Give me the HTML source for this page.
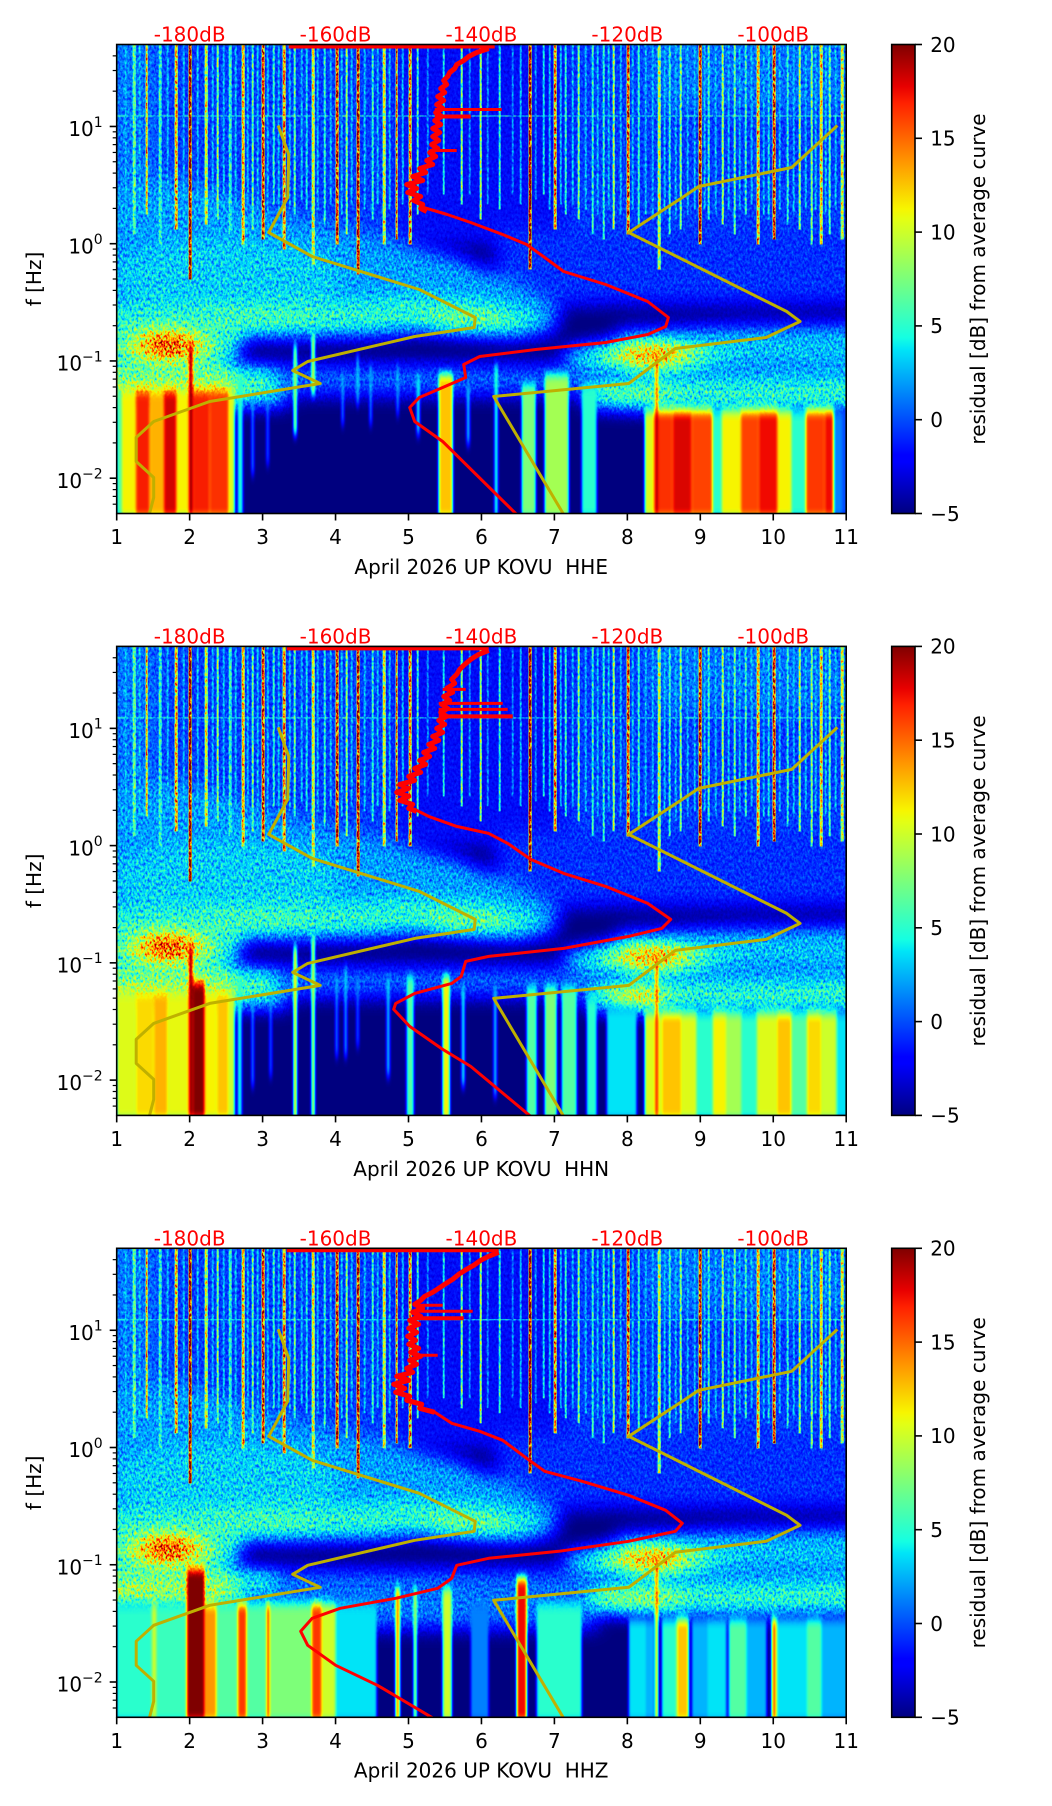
<!DOCTYPE html>
<html><head><meta charset="utf-8"><style>html,body{margin:0;padding:0;background:#fff}svg{display:block}</style></head><body>
<svg xmlns="http://www.w3.org/2000/svg" xmlns:xlink="http://www.w3.org/1999/xlink" width="1052" height="1806" viewBox="0 0 1052 1806" font-family="DejaVu Sans, Liberation Sans, sans-serif">
<defs>
<filter id="jet" filterUnits="userSpaceOnUse" x="0" y="0" width="730" height="470" color-interpolation-filters="sRGB">
<feComponentTransfer in="SourceGraphic">
<feFuncR type="table" tableValues="0 0 0 0 0 0 0 0 .161 .323 .484 .645 .806 .968 1 1 1 1 .955 .727 .5"/>
<feFuncG type="table" tableValues="0 0 0 .1 .3 .5 .7 .9 1 1 1 1 1 .963 .778 .593 .407 .222 .037 0 0"/>
<feFuncB type="table" tableValues=".5 .727 .955 1 1 1 1 .968 .806 .645 .484 .323 .161 0 0 0 0 0 0 0 0"/>
<feFuncA type="identity"/>
</feComponentTransfer>
</filter>
<filter id="nz" filterUnits="userSpaceOnUse" x="0" y="0" width="730" height="470" color-interpolation-filters="sRGB">
<feTurbulence type="fractalNoise" baseFrequency="0.45 0.3" numOctaves="2" seed="7" result="t"/>
<feColorMatrix in="t" type="matrix" values="1 0 0 0 0 1 0 0 0 0 1 0 0 0 0 0 0 0 0 1" result="g"/>
<feComposite in="SourceGraphic" in2="g" operator="arithmetic" k1="1.3" k2="0.35" k3="0" k4="0"/>
</filter>
<filter id="bl" filterUnits="userSpaceOnUse" x="-50" y="-50" width="830" height="570" color-interpolation-filters="sRGB">
<feGaussianBlur stdDeviation="9"/>
</filter>
<filter id="bv" filterUnits="userSpaceOnUse" x="-20" y="250" width="770" height="260" color-interpolation-filters="sRGB">
<feGaussianBlur stdDeviation="1.2 5"/>
</filter>
<linearGradient id="cb" x1="0" y1="1" x2="0" y2="0">
<stop offset="0" stop-color="#000080"/><stop offset=".11" stop-color="#0000ff"/><stop offset=".125" stop-color="#0000ff"/>
<stop offset=".35" stop-color="#00e5f7"/><stop offset=".375" stop-color="#15ffe2"/><stop offset=".5" stop-color="#7bff7b"/>
<stop offset=".625" stop-color="#e2ff15"/><stop offset=".65" stop-color="#f7f500"/><stop offset=".75" stop-color="#ff9700"/>
<stop offset=".875" stop-color="#ff2100"/><stop offset=".91" stop-color="#e80000"/><stop offset="1" stop-color="#800000"/>
</linearGradient>
<clipPath id="pc"><rect x="0" y="0" width="729.5" height="469"/></clipPath>

<g id="blobs">
<rect x="-30" y="-30" width="790" height="228" fill="#2e2e2e"/>
<rect x="280" y="-30" width="170" height="225" fill="#1f1f1f"/>
<rect x="530" y="-30" width="230" height="95" fill="#3b3b3b"/>
<rect x="-30" y="-30" width="70" height="228" fill="#3d3d3d"/>
<rect x="380" y="185" width="380" height="75" fill="#2b2b2b"/>
<polygon points="-30,140 60,135 150,165 250,190 340,212 400,238 445,265 435,290 300,292 150,290 -30,290" fill="#474747"/>
<ellipse cx="110" cy="232" rx="115" ry="38" fill="#545454"/>
<polygon points="-30,262 100,260 250,256 300,252 380,260 425,272 410,292 250,294 100,292 -30,294" fill="#666666"/>
<ellipse cx="140" cy="274" rx="60" ry="9" fill="#707070"/>
<ellipse cx="350" cy="276" rx="42" ry="11" fill="#7d7d7d"/>
<rect x="-30" y="300" width="200" height="60" fill="#6b6b6b"/>
<rect x="-30" y="330" width="150" height="30" fill="#8c8c8c"/>
<polygon points="75,297 150,293 250,291 300,287 400,293 445,292 458,268 495,258 545,264 580,276 600,285 560,300 560,322 400,320 250,318 150,322 75,318" fill="#000"/>
<ellipse cx="51" cy="301" rx="75" ry="26" fill="#666666"/>
<ellipse cx="51" cy="301" rx="45" ry="15" fill="#a1a1a1"/>
<ellipse cx="51" cy="301" rx="24" ry="9" fill="#f2f2f2"/>
<polygon points="500,286 620,281 760,279 760,302 620,303 500,300" fill="#4d4d4d"/>
<rect x="600" y="300" width="160" height="22" fill="#525252"/>
<rect x="160" y="320" width="320" height="30" fill="#383838"/>
<rect x="480" y="322" width="280" height="14" fill="#2b2b2b"/>
<ellipse cx="535" cy="311" rx="90" ry="15" fill="#616161"/>
<ellipse cx="535" cy="311" rx="55" ry="10" fill="#999999"/>
<ellipse cx="535" cy="311" rx="28" ry="6" fill="#f2f2f2"/>
<polygon points="470,338 600,332 760,330 760,366 600,368 470,362" fill="#666666"/>
<ellipse cx="520" cy="350" rx="45" ry="10" fill="#808080"/>
</g>

<g id="streaks">
<rect x="0" y="71" width="730" height="1" fill="#5c5c5c"/>
<rect x="8" y="0" width="2" height="180" fill="#4d4d4d"/>
<rect x="16" y="0" width="3" height="190" fill="#737373"/>
<rect x="22" y="0" width="2" height="170" fill="#4d4d4d"/>
<rect x="29" y="0" width="2" height="170" fill="#b3b3b3"/>
<rect x="42" y="0" width="3" height="200" fill="#666666"/>
<rect x="50" y="0" width="2" height="160" fill="#4d4d4d"/>
<rect x="58" y="0" width="3" height="185" fill="#b3b3b3"/>
<rect x="66" y="0" width="2" height="175" fill="#4d4d4d"/>
<rect x="72" y="0" width="3" height="235" fill="#f2f2f2"/>
<rect x="80" y="0" width="2" height="165" fill="#4d4d4d"/>
<rect x="88" y="0" width="3" height="180" fill="#999999"/>
<rect x="95" y="0" width="2" height="160" fill="#4d4d4d"/>
<rect x="100" y="0" width="2" height="175" fill="#808080"/>
<rect x="106" y="0" width="2" height="165" fill="#4d4d4d"/>
<rect x="112" y="0" width="3" height="190" fill="#666666"/>
<rect x="118" y="0" width="2" height="165" fill="#4d4d4d"/>
<rect x="125" y="0" width="3" height="200" fill="#b3b3b3"/>
<rect x="130" y="0" width="2" height="160" fill="#4d4d4d"/>
<rect x="135" y="0" width="2" height="185" fill="#737373"/>
<rect x="140" y="0" width="2" height="165" fill="#4d4d4d"/>
<rect x="145" y="0" width="3" height="195" fill="#d9d9d9"/>
<rect x="150" y="0" width="2" height="170" fill="#4d4d4d"/>
<rect x="156" y="0" width="2" height="160" fill="#666666"/>
<rect x="161" y="0" width="2" height="170" fill="#4d4d4d"/>
<rect x="166" y="0" width="3" height="205" fill="#bfbfbf"/>
<rect x="172" y="0" width="2" height="165" fill="#4d4d4d"/>
<rect x="177" y="0" width="2" height="170" fill="#737373"/>
<rect x="184" y="0" width="2" height="155" fill="#4d4d4d"/>
<rect x="189" y="0" width="2" height="165" fill="#595959"/>
<rect x="195" y="0" width="3" height="220" fill="#999999"/>
<rect x="200" y="0" width="2" height="165" fill="#4d4d4d"/>
<rect x="207" y="0" width="2" height="180" fill="#666666"/>
<rect x="213" y="0" width="2" height="160" fill="#4d4d4d"/>
<rect x="219" y="0" width="3" height="200" fill="#d9d9d9"/>
<rect x="224" y="0" width="2" height="170" fill="#4d4d4d"/>
<rect x="229" y="0" width="2" height="190" fill="#808080"/>
<rect x="234" y="0" width="2" height="160" fill="#4d4d4d"/>
<rect x="240" y="0" width="3" height="230" fill="#e6e6e6"/>
<rect x="247" y="0" width="2" height="165" fill="#4d4d4d"/>
<rect x="255" y="0" width="2" height="175" fill="#666666"/>
<rect x="260" y="0" width="2" height="160" fill="#4d4d4d"/>
<rect x="266" y="0" width="3" height="200" fill="#999999"/>
<rect x="272" y="0" width="2" height="165" fill="#4d4d4d"/>
<rect x="279" y="0" width="2" height="195" fill="#cccccc"/>
<rect x="285" y="0" width="2" height="160" fill="#4d4d4d"/>
<rect x="292" y="0" width="3" height="200" fill="#bfbfbf"/>
<rect x="300" y="0" width="2" height="170" fill="#666666"/>
<rect x="310" y="0" width="2" height="150" fill="#404040"/>
<rect x="326" y="0" width="2" height="150" fill="#595959"/>
<rect x="344" y="0" width="2" height="160" fill="#808080"/>
<rect x="352" y="0" width="2" height="150" fill="#404040"/>
<rect x="363" y="0" width="2" height="175" fill="#8c8c8c"/>
<rect x="370" y="0" width="2" height="160" fill="#404040"/>
<rect x="382" y="0" width="2" height="165" fill="#666666"/>
<rect x="395" y="0" width="2" height="150" fill="#404040"/>
<rect x="403" y="0" width="2" height="160" fill="#4d4d4d"/>
<rect x="412" y="0" width="3" height="225" fill="#f2f2f2"/>
<rect x="418" y="0" width="2" height="155" fill="#404040"/>
<rect x="426" y="0" width="2" height="150" fill="#595959"/>
<rect x="432" y="0" width="2" height="165" fill="#4d4d4d"/>
<rect x="437" y="0" width="3" height="185" fill="#bfbfbf"/>
<rect x="443" y="0" width="2" height="160" fill="#4d4d4d"/>
<rect x="448" y="0" width="2" height="170" fill="#666666"/>
<rect x="455" y="0" width="2" height="160" fill="#4d4d4d"/>
<rect x="461" y="0" width="2" height="175" fill="#808080"/>
<rect x="468" y="0" width="2" height="165" fill="#4d4d4d"/>
<rect x="475" y="0" width="2" height="190" fill="#666666"/>
<rect x="480" y="0" width="2" height="170" fill="#4d4d4d"/>
<rect x="486" y="0" width="2" height="195" fill="#666666"/>
<rect x="491" y="0" width="2" height="165" fill="#4d4d4d"/>
<rect x="496" y="0" width="2" height="185" fill="#8c8c8c"/>
<rect x="503" y="0" width="2" height="170" fill="#4d4d4d"/>
<rect x="510" y="0" width="3" height="190" fill="#cccccc"/>
<rect x="515" y="0" width="2" height="165" fill="#4d4d4d"/>
<rect x="521" y="0" width="2" height="180" fill="#666666"/>
<rect x="528" y="0" width="2" height="170" fill="#4d4d4d"/>
<rect x="535" y="0" width="2" height="175" fill="#4d4d4d"/>
<rect x="541" y="0" width="3" height="225" fill="#8c8c8c"/>
<rect x="547" y="0" width="2" height="170" fill="#4d4d4d"/>
<rect x="552" y="0" width="2" height="190" fill="#666666"/>
<rect x="558" y="0" width="2" height="175" fill="#4d4d4d"/>
<rect x="563" y="0" width="2" height="185" fill="#808080"/>
<rect x="570" y="0" width="2" height="170" fill="#4d4d4d"/>
<rect x="577" y="0" width="2" height="165" fill="#4d4d4d"/>
<rect x="582" y="0" width="3" height="200" fill="#e6e6e6"/>
<rect x="587" y="0" width="2" height="165" fill="#4d4d4d"/>
<rect x="591" y="0" width="2" height="175" fill="#666666"/>
<rect x="598" y="0" width="2" height="170" fill="#4d4d4d"/>
<rect x="605" y="0" width="2" height="180" fill="#8c8c8c"/>
<rect x="611" y="0" width="2" height="165" fill="#4d4d4d"/>
<rect x="617" y="0" width="2" height="190" fill="#737373"/>
<rect x="622" y="0" width="2" height="165" fill="#4d4d4d"/>
<rect x="628" y="0" width="2" height="170" fill="#666666"/>
<rect x="634" y="0" width="2" height="160" fill="#4d4d4d"/>
<rect x="640" y="0" width="3" height="200" fill="#b3b3b3"/>
<rect x="646" y="0" width="2" height="170" fill="#4d4d4d"/>
<rect x="651" y="0" width="2" height="175" fill="#595959"/>
<rect x="656" y="0" width="3" height="195" fill="#d9d9d9"/>
<rect x="662" y="0" width="2" height="165" fill="#4d4d4d"/>
<rect x="670" y="0" width="2" height="180" fill="#666666"/>
<rect x="676" y="0" width="2" height="170" fill="#4d4d4d"/>
<rect x="682" y="0" width="2" height="185" fill="#8c8c8c"/>
<rect x="688" y="0" width="2" height="165" fill="#4d4d4d"/>
<rect x="694" y="0" width="2" height="200" fill="#808080"/>
<rect x="698" y="0" width="2" height="165" fill="#4d4d4d"/>
<rect x="703" y="0" width="3" height="200" fill="#a6a6a6"/>
<rect x="708" y="0" width="2" height="170" fill="#4d4d4d"/>
<rect x="712" y="0" width="2" height="190" fill="#737373"/>
<rect x="718" y="0" width="2" height="165" fill="#4d4d4d"/>
<rect x="724" y="0" width="3" height="195" fill="#999999"/>
</g>

<g id="yel" fill="none" stroke="#bfb000" stroke-width="3" stroke-linejoin="round">
<polyline points="161.5,81 172,110 171,153 152,188 195.5,212 302.6,245 358.5,273 357.5,283 298,292 191,317 176,326 203.5,339 93,357 37,377 19.5,393 19.5,417 37,433 37,453 32.6,470"/>
<polyline points="720.7,81 675,123 582,142 565.6,153 512,188 670,267 683.4,277 649.4,293 558.7,304 512,339 377,352 447,470"/>
</g>

<g id="frame">
<rect x="0" y="0" width="729.5" height="469" fill="none" stroke="#000" stroke-width="1.6"/>
<g stroke="#000" stroke-width="1.6">
<line x1="0" y1="469" x2="0" y2="476"/><line x1="72.95" y1="469" x2="72.95" y2="476"/><line x1="145.9" y1="469" x2="145.9" y2="476"/><line x1="218.85" y1="469" x2="218.85" y2="476"/><line x1="291.8" y1="469" x2="291.8" y2="476"/><line x1="364.75" y1="469" x2="364.75" y2="476"/><line x1="437.7" y1="469" x2="437.7" y2="476"/><line x1="510.65" y1="469" x2="510.65" y2="476"/><line x1="583.6" y1="469" x2="583.6" y2="476"/><line x1="656.55" y1="469" x2="656.55" y2="476"/><line x1="729.5" y1="469" x2="729.5" y2="476"/>
<line x1="-7" y1="81.96" x2="0" y2="81.96"/><line x1="-7" y1="199.2" x2="0" y2="199.2"/><line x1="-7" y1="316.45" x2="0" y2="316.45"/><line x1="-7" y1="433.7" x2="0" y2="433.7"/>
</g>
<g stroke="#000" stroke-width="1.2">
<line x1="-4" y1="46.67" x2="0" y2="46.67"/><line x1="-4" y1="26.02" x2="0" y2="26.02"/><line x1="-4" y1="11.36" x2="0" y2="11.36"/>
<line x1="-4" y1="163.9" x2="0" y2="163.9"/><line x1="-4" y1="143.27" x2="0" y2="143.27"/><line x1="-4" y1="128.61" x2="0" y2="128.61"/><line x1="-4" y1="117.25" x2="0" y2="117.25"/><line x1="-4" y1="107.96" x2="0" y2="107.96"/><line x1="-4" y1="100.12" x2="0" y2="100.12"/><line x1="-4" y1="93.32" x2="0" y2="93.32"/><line x1="-4" y1="87.33" x2="0" y2="87.33"/>
<line x1="-4" y1="281.2" x2="0" y2="281.2"/><line x1="-4" y1="260.5" x2="0" y2="260.5"/><line x1="-4" y1="245.9" x2="0" y2="245.9"/><line x1="-4" y1="234.5" x2="0" y2="234.5"/><line x1="-4" y1="225.2" x2="0" y2="225.2"/><line x1="-4" y1="217.4" x2="0" y2="217.4"/><line x1="-4" y1="210.6" x2="0" y2="210.6"/><line x1="-4" y1="204.6" x2="0" y2="204.6"/>
<line x1="-4" y1="398.4" x2="0" y2="398.4"/><line x1="-4" y1="377.8" x2="0" y2="377.8"/><line x1="-4" y1="363.1" x2="0" y2="363.1"/><line x1="-4" y1="351.75" x2="0" y2="351.75"/><line x1="-4" y1="342.5" x2="0" y2="342.5"/><line x1="-4" y1="334.6" x2="0" y2="334.6"/><line x1="-4" y1="327.8" x2="0" y2="327.8"/><line x1="-4" y1="321.8" x2="0" y2="321.8"/>
<line x1="-4" y1="459.7" x2="0" y2="459.7"/><line x1="-4" y1="451.9" x2="0" y2="451.9"/><line x1="-4" y1="445.1" x2="0" y2="445.1"/><line x1="-4" y1="439.1" x2="0" y2="439.1"/>
</g>
<g font-size="20" fill="#000" text-anchor="middle">
<text x="0" y="499.5">1</text><text x="72.95" y="499.5">2</text><text x="145.9" y="499.5">3</text><text x="218.85" y="499.5">4</text><text x="291.8" y="499.5">5</text><text x="364.75" y="499.5">6</text><text x="437.7" y="499.5">7</text><text x="510.65" y="499.5">8</text><text x="583.6" y="499.5">9</text><text x="656.55" y="499.5">10</text><text x="729.5" y="499.5">11</text>
</g>
<g font-size="20" fill="#ff0000" text-anchor="middle">
<text x="72.95" y="-3">-180dB</text><text x="218.85" y="-3">-160dB</text><text x="364.75" y="-3">-140dB</text><text x="510.65" y="-3">-120dB</text><text x="656.55" y="-3">-100dB</text>
</g>
<g font-size="20" fill="#000" text-anchor="end">
<text x="-14" y="91.6">10<tspan font-size="14" dy="-9.3">1</tspan></text>
<text x="-14" y="208.9">10<tspan font-size="14" dy="-9.3">0</tspan></text>
<text x="-14" y="326.1">10<tspan font-size="14" dy="-9.3">−1</tspan></text>
<text x="-14" y="443.4">10<tspan font-size="14" dy="-9.3">−2</tspan></text>
</g>
<text font-size="20" fill="#000" text-anchor="middle" transform="translate(-75.7,234.5) rotate(-90)">f [Hz]</text>
<rect x="775" y="0" width="23.3" height="469" fill="url(#cb)" stroke="#000" stroke-width="1.6"/>
<g stroke="#000" stroke-width="1.6">
<line x1="798.3" y1="0" x2="805.3" y2="0"/><line x1="798.3" y1="93.8" x2="805.3" y2="93.8"/><line x1="798.3" y1="187.6" x2="805.3" y2="187.6"/><line x1="798.3" y1="281.4" x2="805.3" y2="281.4"/><line x1="798.3" y1="375.2" x2="805.3" y2="375.2"/><line x1="798.3" y1="469" x2="805.3" y2="469"/>
</g>
<g font-size="20" fill="#000">
<text x="813.5" y="7.3">20</text><text x="813.5" y="101.1">15</text><text x="813.5" y="194.9">10</text><text x="813.5" y="288.7">5</text><text x="813.5" y="382.5">0</text><text x="813.5" y="476.3">−5</text>
</g>
<text font-size="20" fill="#000" text-anchor="middle" transform="translate(868.3,234.5) rotate(-90)">residual [dB] from average curve</text>
</g>
</defs>

<rect x="0" y="0" width="1052" height="1806" fill="#fff"/>

<!-- Panel 1 -->
<g transform="translate(116.7,44.5)">
<g clip-path="url(#pc)">
<g filter="url(#jet)">
<g filter="url(#nz)">
<rect x="0" y="0" width="730" height="470" fill="#000"/>
<g filter="url(#bl)"><use xlink:href="#blobs"/></g>
<use xlink:href="#streaks"/>
</g>
<g filter="url(#bv)">
<rect x="0" y="345" width="5" height="130" fill="#737373"/><rect x="5" y="345" width="14" height="130" fill="#a6a6a6"/><rect x="19" y="345" width="14" height="130" fill="#e0e0e0"/><rect x="33" y="345" width="14" height="130" fill="#b8b8b8"/><rect x="47" y="345" width="13" height="130" fill="#ededed"/><rect x="60" y="345" width="12" height="130" fill="#a6a6a6"/><rect x="76" y="345" width="17" height="130" fill="#e0e0e0"/><rect x="93" y="345" width="19" height="130" fill="#dbdbdb"/><rect x="112" y="345" width="6" height="130" fill="#9e9e9e"/>
<rect x="72" y="300" width="4" height="175" fill="#ffffff"/>
<rect x="121" y="330" width="5" height="145" fill="#666666"/><rect x="135" y="350" width="2" height="80" fill="#595959"/><rect x="150" y="340" width="2" height="80" fill="#4d4d4d"/><rect x="177" y="300" width="3" height="90" fill="#999999"/><rect x="195" y="290" width="3" height="60" fill="#a6a6a6"/><rect x="225" y="330" width="2" height="50" fill="#595959"/><rect x="240" y="310" width="2" height="50" fill="#666666"/><rect x="253" y="320" width="2" height="60" fill="#595959"/><rect x="280" y="320" width="2" height="50" fill="#595959"/><rect x="300" y="330" width="3" height="60" fill="#666666"/><rect x="322" y="330" width="14" height="145" fill="#b3b3b3"/><rect x="350" y="340" width="3" height="60" fill="#595959"/><rect x="378" y="320" width="3" height="155" fill="#737373"/><rect x="405" y="340" width="14" height="135" fill="#808080"/><rect x="428" y="330" width="24" height="145" fill="#8c8c8c"/><rect x="465" y="340" width="15" height="135" fill="#666666"/>
<rect x="528" y="365" width="9" height="110" fill="#9e9e9e"/><rect x="537" y="365" width="19" height="110" fill="#dbdbdb"/><rect x="556" y="365" width="19" height="110" fill="#ebebeb"/><rect x="575" y="365" width="21" height="110" fill="#d6d6d6"/><rect x="596" y="365" width="9" height="110" fill="#666666"/><rect x="605" y="365" width="19" height="110" fill="#a6a6a6"/><rect x="624" y="365" width="18" height="110" fill="#d6d6d6"/><rect x="642" y="365" width="19" height="110" fill="#e6e6e6"/><rect x="661" y="365" width="14" height="110" fill="#a6a6a6"/><rect x="675" y="365" width="14" height="110" fill="#666666"/><rect x="689" y="365" width="19" height="110" fill="#d9d9d9"/><rect x="708" y="365" width="9" height="110" fill="#e6e6e6"/><rect x="717" y="365" width="9" height="110" fill="#404040"/><rect x="726" y="365" width="10" height="110" fill="#333333"/>
<rect x="539" y="310" width="2" height="165" fill="#ffffff"/>
</g>
</g>
<use xlink:href="#yel"/>
<g fill="none" stroke="#ff0000" stroke-linejoin="round">
<line x1="172" y1="2" x2="378" y2="2" stroke-width="4"/>
<polyline stroke-width="5" points="372,4 360,8 352,12 347,16 340,20 338,24 333,28 331,32 327,36 330,40 324,44 328,48 321,52 327,56 320,60 326,64 319,68 325,72 318,76 324,80 316,84 323,88 316,92 322,96 315,100 321,104 313,108 319,112 310,116 316,120 303,124 309,128 296,132 306,136 290,140 300,144 291,148 304,152 297,156 306,160 304,164 310,167"/>
<line x1="318" y1="65" x2="385" y2="65" stroke-width="3"/><line x1="318" y1="72" x2="354" y2="72" stroke-width="4"/><line x1="313" y1="106" x2="340" y2="106" stroke-width="3"/>
<polyline stroke-width="3" points="307,163 330.5,170 354,178 386,190 410,200 428,213 447,227 489,240 531,257 551.7,273 549,282 531,290 489,298 419,305 363,312 347,320 349,333 326,343 302.6,353 293,363 298,377 326,397 400,470"/>
</g>
</g>
<use xlink:href="#frame"/>
<text x="364.5" y="529.4" font-size="20" fill="#000" text-anchor="middle">April 2026 UP KOVU&#160; HHE</text>
</g>

<!-- Panel 2 -->
<g transform="translate(116.7,646.4)">
<g clip-path="url(#pc)">
<g filter="url(#jet)">
<g filter="url(#nz)">
<rect x="0" y="0" width="730" height="470" fill="#000"/>
<g filter="url(#bl)"><use xlink:href="#blobs"/><ellipse cx="520" cy="352" rx="25" ry="8" fill="#bfbfbf"/></g>
<use xlink:href="#streaks"/>
</g>
<g filter="url(#bv)">
<rect x="0" y="345" width="19" height="130" fill="#9e9e9e"/><rect x="19" y="345" width="18" height="130" fill="#adadad"/><rect x="37" y="345" width="14" height="130" fill="#b8b8b8"/><rect x="51" y="345" width="21" height="130" fill="#a1a1a1"/><rect x="88" y="345" width="12" height="130" fill="#a6a6a6"/><rect x="100" y="345" width="12" height="130" fill="#b3b3b3"/><rect x="112" y="345" width="6" height="130" fill="#999999"/>
<rect x="72" y="300" width="4" height="175" fill="#ffffff"/><rect x="76" y="335" width="12" height="140" fill="#ffffff"/>
<rect x="121" y="330" width="4" height="145" fill="#666666"/><rect x="135" y="350" width="2" height="90" fill="#595959"/><rect x="153" y="340" width="2" height="90" fill="#4d4d4d"/><rect x="177" y="300" width="3" height="175" fill="#bfbfbf"/><rect x="195" y="290" width="3" height="185" fill="#a6a6a6"/><rect x="219" y="330" width="2" height="80" fill="#595959"/><rect x="228" y="320" width="2" height="90" fill="#666666"/><rect x="240" y="330" width="2" height="70" fill="#4d4d4d"/><rect x="270" y="330" width="3" height="100" fill="#595959"/><rect x="290" y="330" width="7" height="145" fill="#737373"/><rect x="326" y="330" width="7" height="145" fill="#a6a6a6"/><rect x="345" y="340" width="3" height="100" fill="#666666"/><rect x="377" y="340" width="3" height="110" fill="#595959"/><rect x="410" y="340" width="10" height="135" fill="#737373"/><rect x="428" y="340" width="12" height="135" fill="#808080"/><rect x="445" y="340" width="15" height="135" fill="#737373"/><rect x="470" y="350" width="10" height="125" fill="#666666"/><rect x="490" y="360" width="30" height="115" fill="#595959"/>
<rect x="528" y="365" width="17" height="110" fill="#9e9e9e"/><rect x="545" y="365" width="20" height="110" fill="#b3b3b3"/><rect x="565" y="365" width="15" height="110" fill="#9e9e9e"/><rect x="580" y="365" width="16" height="110" fill="#666666"/><rect x="596" y="365" width="14" height="110" fill="#a6a6a6"/><rect x="610" y="365" width="15" height="110" fill="#8c8c8c"/><rect x="625" y="365" width="15" height="110" fill="#666666"/><rect x="640" y="365" width="20" height="110" fill="#9e9e9e"/><rect x="660" y="365" width="15" height="110" fill="#b3b3b3"/><rect x="675" y="365" width="15" height="110" fill="#737373"/><rect x="690" y="365" width="15" height="110" fill="#adadad"/><rect x="705" y="365" width="15" height="110" fill="#999999"/><rect x="720" y="365" width="16" height="110" fill="#595959"/>
<rect x="539" y="310" width="2" height="165" fill="#ffffff"/>
</g>
</g>
<use xlink:href="#yel"/>
<g fill="none" stroke="#ff0000" stroke-linejoin="round">
<line x1="170" y1="2" x2="372" y2="2" stroke-width="4"/>
<polyline stroke-width="5" points="372,4 362,8 354,13 348,18 343,23 340,28 335,33 338,37 330,42 336,46 327,50 333,54 325,58 331,62 324,66 330,70 322,74 328,78 320,82 326,86 316,90 322,94 312,98 318,102 307,106 313,110 303,114 309,118 298,122 304,126 292,130 298,134 283,138 292,142 280,146 292,150 283,154 296,158 292,162 300,165"/>
<line x1="326" y1="43" x2="349" y2="43" stroke-width="3"/><line x1="322" y1="57" x2="386" y2="57" stroke-width="3"/><line x1="322" y1="63" x2="391" y2="63" stroke-width="3"/><line x1="322" y1="70" x2="396" y2="70" stroke-width="4"/>
<polyline stroke-width="3" points="298,163 312,170 340,180 372,187 391,197 414,213 447,227 489,240 531,257 554,273 545,282 512,290 447,302 372,310 349,315 344.5,330 335,337 298,347 279,357 277,363 293,380 326,403 354,420 414,470"/>
</g>
</g>
<use xlink:href="#frame"/>
<text x="364.5" y="529.4" font-size="20" fill="#000" text-anchor="middle">April 2026 UP KOVU&#160; HHN</text>
</g>

<!-- Panel 3 -->
<g transform="translate(116.7,1248.3)">
<g clip-path="url(#pc)">
<g filter="url(#jet)">
<g filter="url(#nz)">
<rect x="0" y="0" width="730" height="470" fill="#000"/>
<g filter="url(#bl)"><use xlink:href="#blobs"/><rect x="120" y="340" width="360" height="40" fill="#3d3d3d"/><ellipse cx="520" cy="352" rx="50" ry="12" fill="#8c8c8c"/></g>
<use xlink:href="#streaks"/>
</g>
<g filter="url(#bv)">
<rect x="0" y="355" width="35" height="120" fill="#666666"/><rect x="35" y="355" width="5" height="120" fill="#999999"/><rect x="40" y="355" width="30" height="120" fill="#6b6b6b"/><rect x="70" y="320" width="18" height="155" fill="#ffffff"/><rect x="88" y="355" width="12" height="120" fill="#bfbfbf"/><rect x="100" y="355" width="21" height="120" fill="#737373"/><rect x="121" y="355" width="9" height="120" fill="#d9d9d9"/><rect x="130" y="355" width="20" height="120" fill="#737373"/><rect x="150" y="355" width="3" height="120" fill="#e6e6e6"/><rect x="153" y="355" width="42" height="120" fill="#808080"/><rect x="195" y="355" width="10" height="120" fill="#d9d9d9"/><rect x="205" y="355" width="14" height="120" fill="#999999"/><rect x="219" y="355" width="41" height="120" fill="#595959"/><rect x="279" y="340" width="4" height="135" fill="#cccccc"/><rect x="297" y="340" width="3" height="135" fill="#999999"/><rect x="326" y="340" width="9" height="135" fill="#999999"/><rect x="354" y="355" width="18" height="120" fill="#404040"/><rect x="400" y="330" width="10" height="145" fill="#e6e6e6"/><rect x="420" y="355" width="45" height="120" fill="#666666"/>
<rect x="512" y="370" width="18" height="105" fill="#595959"/><rect x="530" y="370" width="8" height="105" fill="#4d4d4d"/><rect x="545" y="370" width="15" height="105" fill="#666666"/><rect x="560" y="370" width="12" height="105" fill="#b3b3b3"/><rect x="575" y="370" width="15" height="105" fill="#4d4d4d"/><rect x="590" y="370" width="20" height="105" fill="#595959"/><rect x="612" y="370" width="18" height="105" fill="#737373"/><rect x="630" y="370" width="20" height="105" fill="#4d4d4d"/><rect x="655" y="370" width="5" height="105" fill="#cccccc"/><rect x="660" y="370" width="30" height="105" fill="#595959"/><rect x="690" y="370" width="15" height="105" fill="#737373"/><rect x="705" y="370" width="31" height="105" fill="#4d4d4d"/>
<rect x="539" y="310" width="2" height="165" fill="#ffffff"/>
</g>
</g>
<use xlink:href="#yel"/>
<g fill="none" stroke="#ff0000" stroke-linejoin="round">
<line x1="170" y1="2" x2="382" y2="2" stroke-width="4"/>
<polyline stroke-width="5" points="382,4 372,8 364,12 357,17 350,21 342,26 336,31 328,36 322,40 316,44 308,48 304,52 298,56 306,60 296,64 304,68 293,72 302,76 292,80 300,84 291,88 299,92 292,96 302,100 294,104 304,108 293,112 300,116 290,120 296,124 280,128 292,132 277,136 288,140 279,144 293,148 290,152 305,156 303,160 318,164"/>
<line x1="298" y1="57" x2="326" y2="57" stroke-width="3"/><line x1="296" y1="63" x2="356" y2="63" stroke-width="3"/><line x1="296" y1="70" x2="347" y2="70" stroke-width="4"/><line x1="300" y1="107" x2="321" y2="107" stroke-width="3"/>
<polyline stroke-width="3" points="316.6,163 335,175 363,183 386,192 410,210 428,223 465.5,233 512,247 549,262 565.6,275 558.7,283 512,293 442,303 372,310 340,317 335,330 321,340 279,350 223.5,360 195.5,370 184,383 191,397 219,417 260.7,437 316.6,470"/>
</g>
</g>
<use xlink:href="#frame"/>
<text x="364.5" y="529.4" font-size="20" fill="#000" text-anchor="middle">April 2026 UP KOVU&#160; HHZ</text>
</g>
</svg>
</body></html>
